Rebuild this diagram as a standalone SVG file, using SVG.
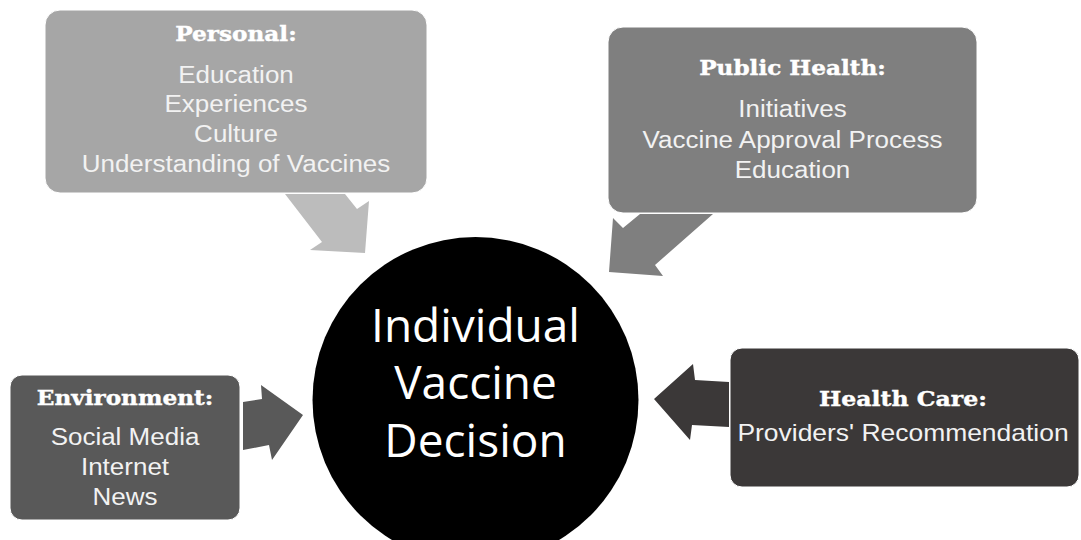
<svg xmlns="http://www.w3.org/2000/svg" width="1081" height="540" viewBox="0 0 1081 540">
<style>
.box{stroke:#ffffff;stroke-width:1}
.t{font-family:"DejaVu Serif","Liberation Serif",serif;font-weight:bold;font-size:20.5px;fill:#ffffff;stroke:#ffffff;stroke-width:0.4;text-anchor:middle}
.b{font-family:"Liberation Sans",Arial,sans-serif;font-size:23px;fill:#f2f2f2;text-anchor:middle}
.c{font-family:"Open Sans","Liberation Sans",sans-serif;font-size:46px;fill:#ffffff;text-anchor:middle}
</style>
<rect width="1081" height="540" fill="#ffffff"/>
<g id="connectors">
<polygon points="285,194 345,194 357,209 369,201 365,253 310,250 322,242" fill="#bcbcbc"/>
<polygon points="640,214 713,214 655,265 663,276 609,272 613,218 623,228" fill="#7f7f7f"/>
<polygon points="243,402 262,399 261,385 303,415 272,460 269,445 243,450" fill="#595959"/>
<polygon points="729,382 695,380 693,364 654,399 690,440 692,425 729,427" fill="#3b3838"/>
</g>
<g id="personal">
<rect class="box" x="45" y="10" width="382" height="183" rx="15" fill="#a6a6a6"/>
<g transform="translate(236 0) scale(1.13 1)">
<text class="t" x="0" y="41">Personal:</text>
<text class="b" x="0" y="83">Education</text>
<text class="b" x="0" y="112">Experiences</text>
<text class="b" x="0" y="142">Culture</text>
<text class="b" x="0" y="172">Understanding of Vaccines</text>
</g>
</g>
<g id="public-health">
<rect class="box" x="608" y="27" width="369" height="186" rx="15" fill="#7f7f7f"/>
<g transform="translate(792.5 0) scale(1.13 1)">
<text class="t" x="0" y="75">Public Health:</text>
<text class="b" x="0" y="117">Initiatives</text>
<text class="b" x="0" y="148">Vaccine Approval Process</text>
<text class="b" x="0" y="178">Education</text>
</g>
</g>
<g id="environment">
<rect class="box" x="10" y="375" width="230" height="145" rx="12" fill="#595959"/>
<g transform="translate(125 0) scale(1.13 1)">
<text class="t" x="0" y="405">Environment:</text>
<text class="b" x="0" y="445">Social Media</text>
<text class="b" x="0" y="475">Internet</text>
<text class="b" x="0" y="505">News</text>
</g>
</g>
<g id="health-care">
<rect class="box" x="730" y="348" width="349" height="139" rx="12" fill="#3b3838"/>
<g transform="translate(903 0) scale(1.15 1)">
<text class="t" x="0" y="406">Health Care:</text>
<text class="b" x="0" y="441">Providers' Recommendation</text>
</g>
</g>
<g id="decision">
<circle cx="475.5" cy="400" r="163" fill="#000000"/>
<text class="c" x="475.5" y="342">Individual</text>
<text class="c" x="475.5" y="399">Vaccine</text>
<text class="c" x="475.5" y="457">Decision</text>
</g>
</svg>
